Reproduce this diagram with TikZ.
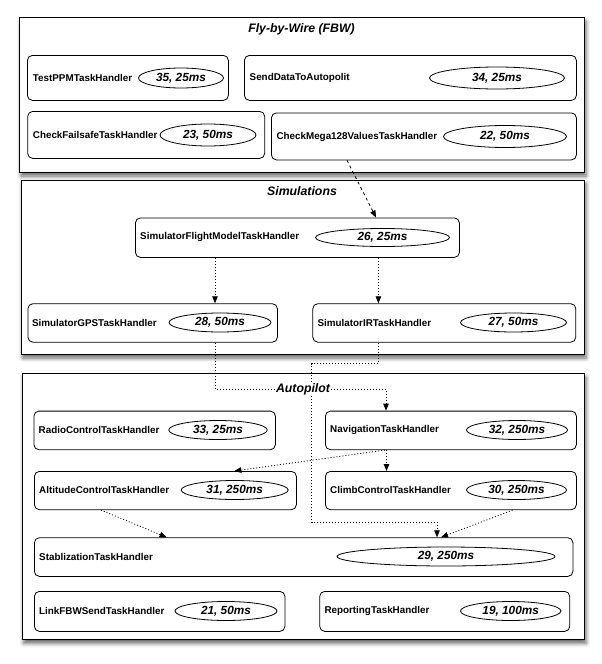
\documentclass[tikz,border=0pt]{standalone}
\usepackage{fontspec}
\setmainfont{Liberation Sans}
\usetikzlibrary{shapes.geometric,arrows.meta,shadows.blur}
\begin{document}
\begin{tikzpicture}[x=1pt,y=-1pt,
  frame/.style={draw, line width=1.1pt, fill=white, anchor=north west, inner sep=0pt,
    blur shadow={shadow xshift=1.5pt, shadow yshift=-3.5pt, shadow blur radius=4pt, shadow opacity=60}},
  task/.style={draw, line width=0.8pt, rounded corners=5pt, anchor=north west, inner sep=0pt, fill=white},
  lbl/.style={anchor=west, inner sep=0pt, font=\bfseries\fontsize{9.85}{11}\selectfont},
  period/.style={draw, ellipse, line width=0.8pt, inner sep=0pt,
    font=\bfseries\itshape\fontsize{11.8}{13}\selectfont},
  ttl/.style={fill=white, inner sep=1pt, font=\bfseries\itshape\fontsize{12.3}{14}\selectfont},
  flow/.style={line width=0.8pt, dash pattern=on 1pt off 2pt, -{Triangle[length=7pt,width=5.5pt]}},
  feed/.style={line width=0.8pt, dash pattern=on 3pt off 3pt, -{Triangle[length=7pt,width=5.5pt]}}
]
\useasboundingbox (0,0) rectangle (602,664);

% group frames
\node[frame, minimum width=565pt, minimum height=155pt] (fbw) at (19,17) {};
\node[frame, minimum width=563.5pt, minimum height=174.5pt] (sim) at (20.5,179.5) {};
\node[frame, minimum width=562.3pt, minimum height=266.3pt] (ap) at (21.7,373) {};

% Fly-by-Wire tasks
\node[task, minimum width=201pt, minimum height=45pt] (ppm) at (27,55) {};
\node[lbl] (ppm-l) at (32.7,77.5) {TestPPMTaskHandler};
\node[period, minimum width=85pt, minimum height=20pt] (ppm-e) at (181,78) {35, 25ms};

\node[task, minimum width=332pt, minimum height=45pt] (sda) at (244,55) {};
\node[lbl] (sda-l) at (249.5,77.5) {SendDataToAutopolit};
\node[period, minimum width=135pt, minimum height=22pt] (sda-e) at (497,78) {34, 25ms};

\node[task, minimum width=237pt, minimum height=47pt] (cfs) at (27.3,111) {};
\node[lbl] (cfs-l) at (32.7,134.5) {CheckFailsafeTaskHandler};
\node[period, minimum width=96pt, minimum height=22pt] (cfs-e) at (208,135) {23, 50ms};

\node[task, minimum width=305pt, minimum height=47pt] (mega) at (271,112.5) {};
\node[lbl] (mega-l) at (276.3,136.5) {CheckMega128ValuesTaskHandler};
\node[period, minimum width=123pt, minimum height=22pt] (mega-e) at (505,136.5) {22, 50ms};

% Simulation tasks
\node[task, minimum width=324pt, minimum height=39.5pt] (simfm) at (135,217.5) {};
\node[lbl] (simfm-l) at (140,237) {SimulatorFlightModelTaskHandler};
\node[period, minimum width=134pt, minimum height=18pt] (simfm-e) at (382.5,237.5) {26, 25ms};

\node[task, minimum width=249.5pt, minimum height=38.5pt] (gps) at (27.5,303.3) {};
\node[lbl] (gps-l) at (31.8,322.5) {SimulatorGPSTaskHandler};
\node[period, minimum width=102pt, minimum height=19pt] (gps-e) at (220,322.5) {28, 50ms};

\node[task, minimum width=263pt, minimum height=38.5pt] (ir) at (312.4,303.3) {};
\node[lbl] (ir-l) at (317.4,322.5) {SimulatorIRTaskHandler};
\node[period, minimum width=106pt, minimum height=19pt] (ir-e) at (513.5,322.5) {27, 50ms};

% Autopilot tasks
\node[task, minimum width=241.5pt, minimum height=38.6pt] (radio) at (33.5,410.7) {};
\node[lbl] (radio-l) at (38.5,430) {RadioControlTaskHandler};
\node[period, minimum width=98.5pt, minimum height=19pt] (radio-e) at (218,430) {33, 25ms};

\node[task, minimum width=251pt, minimum height=38.6pt] (nav) at (325,410.7) {};
\node[lbl] (nav-l) at (330,430) {NavigationTaskHandler};
\node[period, minimum width=101pt, minimum height=19pt] (nav-e) at (517,430) {32, 250ms};

\node[task, minimum width=262pt, minimum height=38.3pt] (alt) at (34,471) {};
\node[lbl] (alt-l) at (39,490) {AltitudeControlTaskHandler};
\node[period, minimum width=107pt, minimum height=19pt] (alt-e) at (234.7,490) {31, 250ms};

\node[task, minimum width=251pt, minimum height=38.3pt] (climb) at (325,471) {};
\node[lbl] (climb-l) at (330,490) {ClimbControlTaskHandler};
\node[period, minimum width=100pt, minimum height=19pt] (climb-e) at (516.5,490) {30, 250ms};

\node[task, minimum width=538.5pt, minimum height=38.7pt] (stab) at (34,537.3) {};
\node[lbl] (stab-l) at (39,556.5) {StablizationTaskHandler};
\node[period, minimum width=218pt, minimum height=19pt] (stab-e) at (446,556.5) {29, 250ms};

\node[task, minimum width=250.5pt, minimum height=40pt] (link) at (34,591) {};
\node[lbl] (link-l) at (39,611) {LinkFBWSendTaskHandler};
\node[period, minimum width=102pt, minimum height=19pt] (link-e) at (226,611) {21, 50ms};

\node[task, minimum width=250pt, minimum height=40pt] (rep) at (319.3,591) {};
\node[lbl] (rep-l) at (324.3,611) {ReportingTaskHandler};
\node[period, minimum width=100.5pt, minimum height=19pt] (rep-e) at (510.7,611) {19, 100ms};

% bends of the routed connectors
\coordinate (gpsbend) at (215,389);
\coordinate (irbend) at (378.4,363.5);
\coordinate (irdrop) at (311.6,522);

% connectors
\draw[feed] (347,0 |- mega.south) -- (376,0 |- simfm.north);
\draw[flow] (215,0 |- simfm.south) -- (215,0 |- gps.north);
\draw[flow] (378.4,0 |- simfm.south) -- (378.4,0 |- ir.north);
\draw[flow] (215,0 |- gps.south) -- (gpsbend) -| (386,0 |- nav.north);
\draw[flow] (378.4,0 |- ir.south) -- (irbend) -| (irdrop) -| (437,0 |- stab.north);
\draw[flow] (385,0 |- nav.south) -- (234.3,0 |- alt.north);
\draw[flow] (386.5,0 |- nav.south) -- (386.5,0 |- climb.north);
\draw[flow] (101,0 |- alt.south) -- (166.6,0 |- stab.north);
\draw[flow] (512.6,0 |- climb.south) -- (441,0 |- stab.north);

% group titles
\node[ttl] (fbw-t) at (301.5,29) {Fly-by-Wire (FBW)};
\node[ttl] (sim-t) at (302,191) {Simulations};
\node[ttl] (ap-t) at (303,389.5) {Autopilot};
\end{tikzpicture}
\end{document}
